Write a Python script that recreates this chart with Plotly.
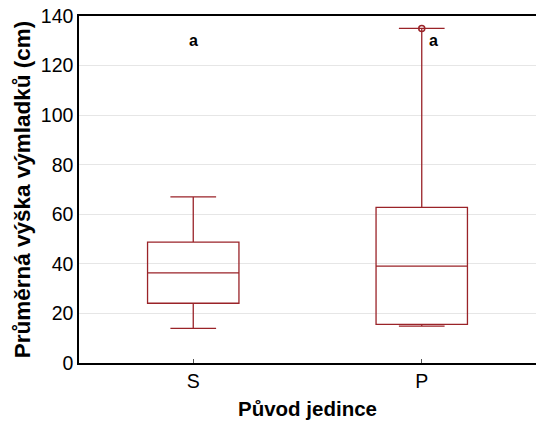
import plotly.graph_objects as go

categories = ["S", "P"]
q1 = [24.1, 15.6]
median = [36.4, 39.1]
q3 = [48.8, 62.8]
lower = [14.0, 14.9]
upper = [67.0, 135.0]
outlier_x = ["P"]
outlier_y = [135.0]
letters = ["a", "a"]
letter_y = [130.0, 130.0]

RED = "#9A2328"
FONT = "Liberation Sans, Arial, sans-serif"

fig = go.Figure()
fig.add_trace(go.Box(
    x=categories, q1=q1, median=median, q3=q3,
    lowerfence=lower, upperfence=upper,
    boxpoints=False, width=0.4, whiskerwidth=0.5,
    line=dict(color=RED, width=1.3),
    fillcolor="rgba(0,0,0,0)", showlegend=False, hoverinfo="skip",
))
fig.add_trace(go.Scatter(
    x=outlier_x, y=outlier_y, mode="markers",
    marker=dict(symbol="circle-open", size=6, color=RED, line=dict(width=1.5, color=RED)),
    showlegend=False,
))

shifts = [0, 12]
for c, t, yy, s in zip(categories, letters, letter_y, shifts):
    fig.add_annotation(x=c, y=yy, text="<b>%s</b>" % t, showarrow=False,
                       xshift=s, font=dict(family=FONT, size=16, color="black"))

fig.update_layout(
    width=537, height=423,
    margin=dict(l=79, r=1, t=16, b=60),
    paper_bgcolor="white", plot_bgcolor="white",
    font=dict(family=FONT, color="black"),
    xaxis=dict(
        type="category", range=[-0.5, 1.5],
        showline=True, linecolor="black", linewidth=1.5, mirror=True,
        ticks="inside", ticklen=4, tickcolor="#555", tickwidth=1,
        tickfont=dict(size=19.5, family=FONT, color="black"),
        title=dict(text="<b>Původ jedince</b>", font=dict(size=20.5, family=FONT), standoff=10),
        showgrid=False, zeroline=False,
    ),
    yaxis=dict(
        range=[0, 140], dtick=20,
        showline=True, linecolor="black", linewidth=1.5,
        ticks="", showgrid=True, gridcolor="#e6e6e6", gridwidth=1, zeroline=False,
        tickfont=dict(size=19.5, family=FONT, color="black"),
        title=dict(text="<b>Průměrná výška výmladků (cm)</b>", font=dict(size=22.5, family=FONT), standoff=4),
    ),
    yaxis2=dict(
        range=[0, 140], dtick=20, overlaying="y", side="right", matches="y",
        showticklabels=False, ticks="inside", ticklen=3, tickcolor="black",
        showgrid=False, showline=False, zeroline=False,
    ),
)

fig.write_html("out.html")
